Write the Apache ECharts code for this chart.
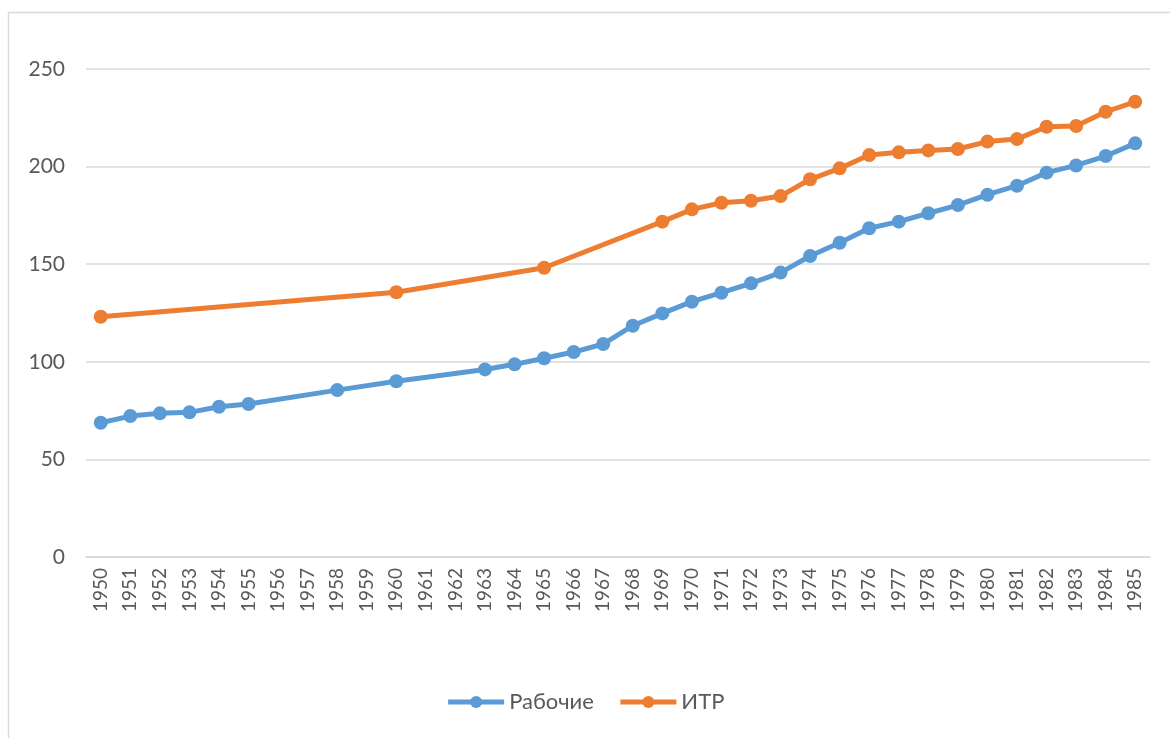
<!DOCTYPE html>
<html>
<head>
<meta charset="utf-8">
<script src="https://cdn.jsdelivr.net/npm/echarts@6/dist/echarts.min.js"></script>
<style>
  html, body { margin: 0; padding: 0; background: #fff; }
  #chart { width: 1170px; height: 738px; }
</style>
</head>
<body>
<div id="chart"></div>
<script>
// years on the category axis
const years = []
for (let y = 1950; y <= 1985; y++) years.push(String(y))

// Рабочие (null = no value for that year, line is joined across)
const workers = [
  68.8, 72.2, 73.6, 74.1, 77.0, 78.4, null, null, 85.5, null,
  90.0, null, null, 96.1, 98.7, 101.8, 105.0, 109.1, 118.5, 124.8,
  130.8, 135.4, 140.2, 145.7, 154.2, 161.0, 168.4, 171.8, 176.1, 180.3,
  185.6, 190.2, 196.9, 200.6, 205.4, 211.9
]

// ИТР
const engineers = [
  123.1, null, null, null, null, null, null, null, null, null,
  135.6, null, null, null, null, 148.2, null, null, null, 171.8,
  178.1, 181.5, 182.5, 184.9, 193.5, 199.1, 205.9, 207.3, 208.3, 209.0,
  212.8, 214.1, 220.4, 220.8, 228.1, 233.2
]

const blue = '#5b9bd5'
const orange = '#ed7d31'
const textColor = '#595959'
const font = 'Lato, "Noto Sans", sans-serif'

const chart = echarts.init(document.getElementById('chart'), null, { renderer: 'canvas' })

function lineSeries(name, data, color) {
  return {
    name: name,
    type: 'line',
    data: data,
    connectNulls: true,
    symbol: 'circle',
    symbolSize: 14,
    lineStyle: { color: color, width: 5 },
    itemStyle: { color: color },
    animation: false
  }
}

chart.setOption({
  textStyle: { fontFamily: font },
  graphic: [{
    type: 'polyline',
    shape: { points: [[8.5, 738], [8.5, 12.5], [1170, 12.5]] },
    style: { stroke: '#d9d9d9', lineWidth: 1.5, fill: null }
  }],
  legend: {
    bottom: 20,
    left: 'center',
    itemWidth: 56,
    itemHeight: 15,
    itemGap: 24,
    textStyle: { color: textColor, fontSize: 22, fontFamily: font },
    data: [
      { name: 'Рабочие', itemStyle: { color: blue }, lineStyle: { color: blue, width: 5 } },
      { name: 'ИТР', itemStyle: { color: orange }, lineStyle: { color: orange, width: 5 } }
    ]
  },
  grid: {
    top: 69,
    left: 86,
    right: 20,
    bottom: 181,
    containLabel: false
  },
  xAxis: {
    type: 'category',
    data: years,
    boundaryGap: true,
    axisLine: { show: true, lineStyle: { color: '#d9d9d9', width: 1.5 } },
    axisTick: { show: false },
    axisLabel: {
      interval: 0,
      rotate: 90,
      color: textColor,
      fontSize: 19,
      margin: 11,
      fontFamily: font
    }
  },
  yAxis: {
    type: 'value',
    min: 0,
    max: 250,
    interval: 50,
    axisLine: { show: false },
    axisTick: { show: false },
    splitLine: { lineStyle: { color: '#d9d9d9', width: 1.5 } },
    axisLabel: { color: textColor, fontSize: 21, margin: 21, fontFamily: font }
  },
  series: [
    lineSeries('Рабочие', workers, blue),
    lineSeries('ИТР', engineers, orange)
  ]
})
</script>
</body>
</html>
